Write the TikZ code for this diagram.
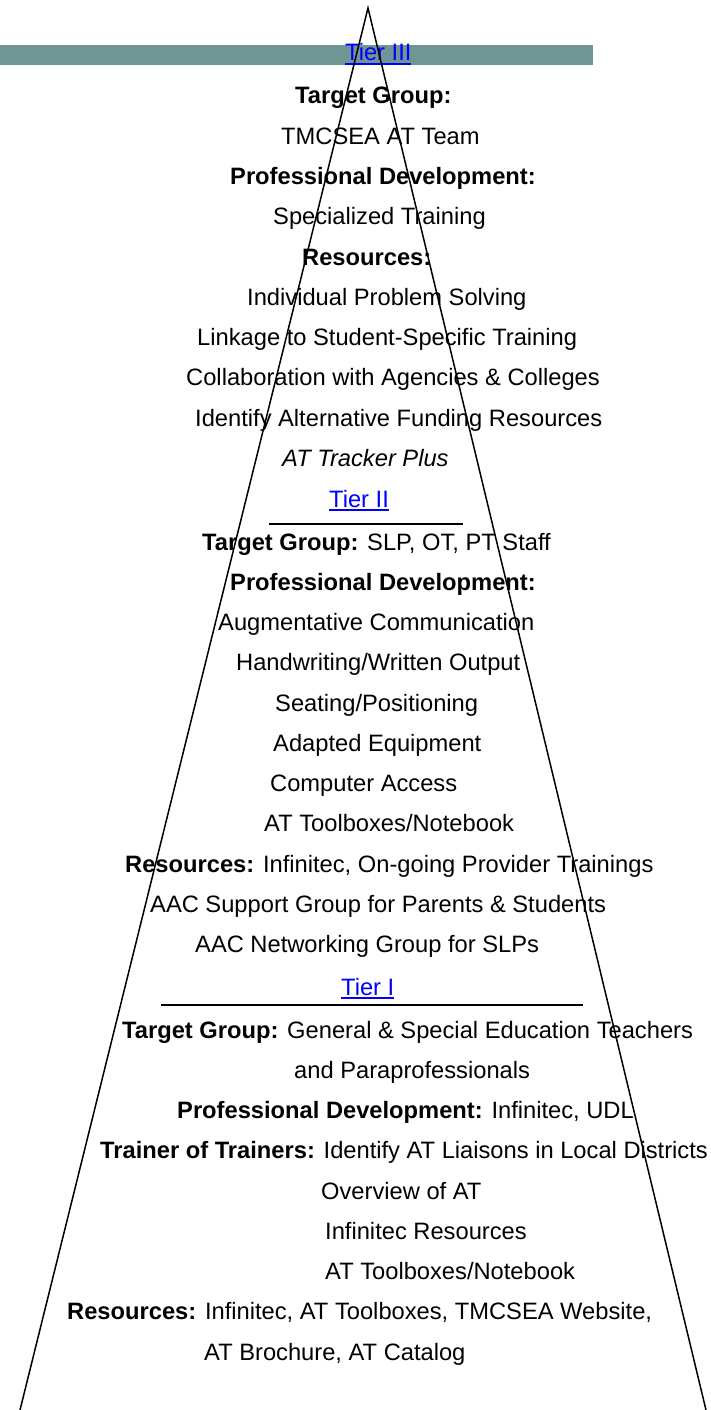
\documentclass[tikz,border=0pt]{standalone}
\usepackage{fontspec}
\setmainfont{Liberation Sans}
\definecolor{barteal}{HTML}{709593}
\newcommand\tierlink[1]{\setbox0\hbox{#1}\rlap{\rule[-4pt]{\wd0}{1.6pt}}\box0}

\begin{document}
\begin{tikzpicture}[x=1pt,y=-1pt,
        every node/.style={inner sep=0pt, anchor=base west, font=\fontsize{23.7}{28}\selectfont},
        tier/.style={text=blue},
        tierrule/.style={line width=2pt},
        side/.style={line width=1.5pt}]
        \useasboundingbox (0,0) rectangle (710,1410);
        \fill[barteal] (0,45) rectangle (593,65);
        % Tier III
        \node[tier] (tier3) at (345,61) {\tierlink{Tier III}};
        \node (t3grp) at (295,104) {\textbf{Target Group:}};
        \node (t3team) at (281,144.3) {TMCSEA AT Team};
        \node (t3pd) at (230,184.5) {\textbf{Professional Development:}};
        \node (t3spec) at (273,224.8) {Specialized Training};
        \node (t3res) at (302,265) {\textbf{Resources:}};
        \node (t3ind) at (247,305.3) {Individual Problem Solving};
        \node (t3link) at (197,345.5) {Linkage to Student-Specific Training};
        \node (t3coll) at (186,385.8) {Collaboration with Agencies \& Colleges};
        \node (t3fund) at (195,426) {Identify Alternative Funding Resources};
        \node (t3trk) at (282,466.3) {\textit{AT Tracker Plus}};
        % Tier II
        \node[tier] (tier2) at (329,507) {\tierlink{Tier II}};
        \coordinate (r2a) at (269,524);
        \coordinate (r2b) at (463,524);
        \draw[tierrule] (r2a) -- (r2b);
        \node (t2grp) at (202,550) {\textbf{Target Group:} SLP, OT, PT Staff};
        \node (t2pd) at (230,590.3) {\textbf{Professional Development:}};
        \node (t2aug) at (218,630.5) {Augmentative Communication};
        \node (t2hw) at (236,670.8) {Handwriting/Written Output};
        \node (t2seat) at (275,711) {Seating/Positioning};
        \node (t2adap) at (273,751.3) {Adapted Equipment};
        \node (t2comp) at (270,791.5) {Computer Access};
        \node (t2tool) at (264,831.8) {AT Toolboxes/Notebook};
        \node (t2res) at (125,872) {\textbf{Resources:} Infinitec, On-going Provider Trainings};
        \node (t2aac) at (150,912.3) {AAC Support Group for Parents \& Students};
        \node (t2net) at (195,952.5) {AAC Networking Group for SLPs};
        % Tier I
        \node[tier] (tier1) at (341,995) {\tierlink{Tier I}};
        \coordinate (r1a) at (161,1005);
        \coordinate (r1b) at (583,1005);
        \draw[tierrule] (r1a) -- (r1b);
        \node (t1grp) at (122,1038) {\textbf{Target Group:} General \& Special Education Teachers};
        \node (t1para) at (294,1078.3) {and Paraprofessionals};
        \node (t1pd) at (177,1118.5) {\textbf{Professional Development:} Infinitec, UDL};
        \node (t1tot) at (100,1158.8) {\textbf{Trainer of Trainers:} Identify AT Liaisons in Local Districts};
        \node (t1ov) at (321,1199) {Overview of AT};
        \node (t1inf) at (325,1239.3) {Infinitec Resources};
        \node (t1tool) at (325,1279.5) {AT Toolboxes/Notebook};
        \node (t1res) at (67,1319.8) {\textbf{Resources:} Infinitec, AT Toolboxes, TMCSEA Website,};
        \node (t1bro) at (204,1360) {AT Brochure, AT Catalog};
        % pyramid sides
        \coordinate (apex) at (368,8);
        \coordinate (bl) at (20,1410);
        \coordinate (br) at (706,1410);
        \draw[side] (bl) -- (apex) -- (br);
    \end{tikzpicture}
\end{document}
